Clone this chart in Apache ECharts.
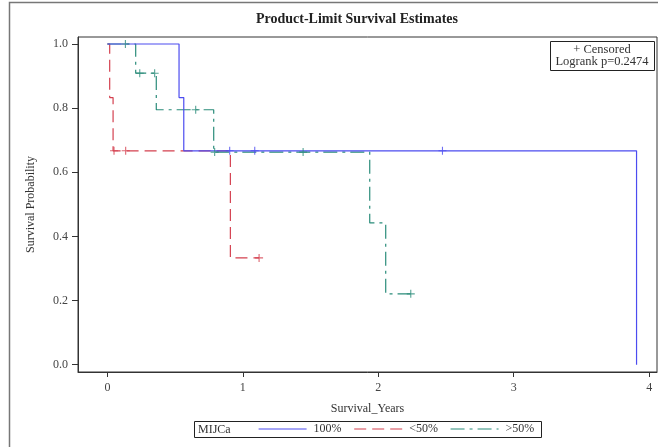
<!DOCTYPE html>
<html>
<head>
<meta charset="utf-8">
<script src="https://cdn.jsdelivr.net/npm/echarts@6/dist/echarts.min.js"></script>
<style>
html,body{margin:0;padding:0;background:#fff;}
#main{width:658px;height:447px;}
</style>
</head>
<body>
<div id="main"></div>
<script>
// 组名
var groupNames = ['100%', '<50%', '>50%'];
var groupColors = ['#4c4cf0', '#d4404f', '#2a8c7a'];

// 生存曲线 (事件时间, 事件后生存率)
var blueTimes = [0, 0.529, 0.564, 3.907];
var blueSurv = [1, 0.833, 0.667, 0];
var redTimes = [0, 0.017, 0.042, 0.908, 1.12];
var redSurv = [1, 0.833, 0.667, 0.333, 0.333];
var tealTimes = [0, 0.209, 0.361, 0.785, 1.937, 2.055, 2.24];
var tealSurv = [1, 0.909, 0.795, 0.663, 0.442, 0.221, 0.221];

// 删失点
var blueCensorT = [0.903, 1.088, 2.474];
var blueCensorS = [0.667, 0.667, 0.667];
var redCensorT = [0.049, 0.135, 1.12];
var redCensorS = [0.667, 0.667, 0.333];
var tealCensorT = [0.133, 0.239, 0.349, 0.652, 0.792, 1.445, 2.24];
var tealCensorS = [1, 0.909, 0.909, 0.795, 0.663, 0.663, 0.221];

// 刻度
var xTicks = [0, 1, 2, 3, 4];
var yTicks = [0, 0.2, 0.4, 0.6, 0.8, 1.0];

var serif = "'Liberation Serif','DejaVu Serif',serif";

function pairs(t, s){
	var out = [];
	for(var i = 0; i < t.length; i++){
		out.push([t[i], s[i]]);
	}
	return out;
}

var plusSymbol = 'path://M0,4L8,4M4,0L4,8';

var curves = [
	{name: groupNames[0], t: blueTimes, s: blueSurv, ct: blueCensorT, cs: blueCensorS, dash: 'solid'},
	{name: groupNames[1], t: redTimes, s: redSurv, ct: redCensorT, cs: redCensorS, dash: [12, 6]},
	{name: groupNames[2], t: tealTimes, s: tealSurv, ct: tealCensorT, cs: tealCensorS, dash: [14, 5, 3, 5]}
];

var series = [];
// 画的顺序: 红, 绿, 蓝
[1, 2, 0].forEach(function(k){
	var c = curves[k];
	series.push({
		name: c.name,
		type: 'line',
		step: 'end',
		symbol: 'none',
		data: pairs(c.t, c.s),
		lineStyle: {color: groupColors[k], width: 1.2, type: c.dash},
		itemStyle: {color: groupColors[k]},
		z: 3
	});
	series.push({
		name: c.name + ' censored',
		type: 'scatter',
		symbol: plusSymbol,
		symbolSize: 8,
		data: pairs(c.ct, c.cs),
		itemStyle: {color: 'none', borderColor: groupColors[k], borderWidth: 1.1},
		z: 4
	});
});

var myChart = echarts.init(document.getElementById('main'));
var option = {
	backgroundColor: '#fff',
	animation: false,
	title: {
		text: 'Product-Limit Survival Estimates',
		left: 256,
		top: 12,
		padding: 0,
		textStyle: {fontFamily: serif, fontSize: 14, fontWeight: 'bold', color: '#222'}
	},
	grid: {
		left: 78, right: 1, top: 37, bottom: 75,
		show: true, borderColor: '#333', borderWidth: 1
	},
	legend: {
		data: groupNames,
		left: 258,
		top: 423,
		padding: 0,
		itemWidth: 48,
		itemHeight: 14,
		itemGap: 12,
		itemStyle: {opacity: 0},
		lineStyle: {width: 1.2},
		textStyle: {fontFamily: serif, fontSize: 12, color: '#333', padding: [0, 0, 0, 2]}
	},
	xAxis: {
		type: 'value',
		min: -0.217,
		max: 4.058,
		name: 'Survival_Years',
		nameLocation: 'middle',
		nameGap: 31,
		nameTextStyle: {fontFamily: serif, fontSize: 12, color: '#333'},
		axisLine: {onZero: false, lineStyle: {color: '#333'}},
		axisTick: {show: true, length: 5, customValues: xTicks, lineStyle: {color: '#333'}},
		axisLabel: {customValues: xTicks, margin: 10, fontFamily: serif, fontSize: 12, color: '#444'},
		splitLine: {show: false}
	},
	yAxis: {
		type: 'value',
		min: -0.0227,
		max: 1.0218,
		name: 'Survival Probability',
		nameLocation: 'middle',
		nameGap: 41,
		nameTextStyle: {fontFamily: serif, fontSize: 12, color: '#333'},
		axisLine: {show: true, onZero: false, lineStyle: {color: '#333'}},
		axisTick: {show: true, length: 6, customValues: yTicks, lineStyle: {color: '#333'}},
		axisLabel: {
			customValues: yTicks, margin: 10, fontFamily: serif, fontSize: 12, color: '#444',
			formatter: function(v){ return v.toFixed(1); }
		},
		splitLine: {show: false}
	},
	graphic: [
		// 外框
		{type: 'rect', shape: {x: 9.5, y: 2.5, width: 700, height: 500}, style: {fill: 'none', stroke: '#777', lineWidth: 1.5}, silent: true},
		// 右上角说明框
		{type: 'rect', shape: {x: 550.5, y: 41.5, width: 104, height: 29}, style: {fill: '#fff', stroke: '#222', lineWidth: 1}, z: 10},
		{type: 'text', x: 602, y: 50, z: 11, style: {text: '+ Censored', fontFamily: serif, fontSize: 12.5, fill: '#333', textAlign: 'center', textVerticalAlign: 'middle'}},
		{type: 'text', x: 602, y: 62, z: 11, style: {text: 'Logrank p=0.2474', fontFamily: serif, fontSize: 12.5, fill: '#333', textAlign: 'center', textVerticalAlign: 'middle'}},
		// 图例框
		{type: 'rect', shape: {x: 194.5, y: 421.5, width: 347, height: 16}, style: {fill: 'none', stroke: '#222', lineWidth: 1}},
		{type: 'text', x: 198, y: 430, style: {text: 'MIJCa', fontFamily: serif, fontSize: 12, fill: '#333', textVerticalAlign: 'middle'}}
	],
	series: series
};
myChart.setOption(option);
</script>
</body>
</html>
